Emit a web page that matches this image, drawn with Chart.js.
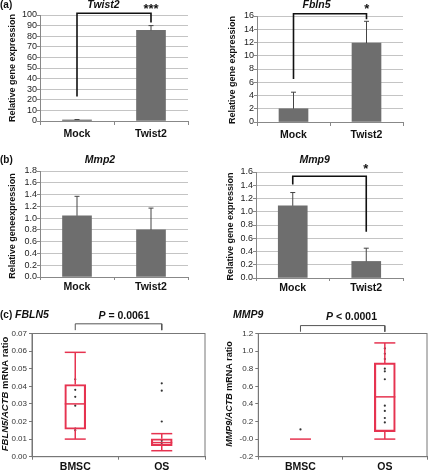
<!DOCTYPE html>
<html>
<head>
<meta charset="utf-8">
<script src="https://cdn.jsdelivr.net/npm/chart.js@4.4.1/dist/chart.umd.min.js"></script>
<style>
  body { margin: 0; background: #fff; }
  #wrap { position: relative; width: 431px; height: 471px; }
  canvas { position: absolute; }
</style>
</head>
<body>
<div id="wrap">
  <canvas id="a1" width="215" height="150" style="left:0;top:0"></canvas>
  <canvas id="a2" width="216" height="150" style="left:215px;top:0"></canvas>
  <canvas id="b1" width="215" height="150" style="left:0;top:150px"></canvas>
  <canvas id="b2" width="216" height="150" style="left:215px;top:150px"></canvas>
  <canvas id="c1" width="215" height="171" style="left:0;top:300px"></canvas>
  <canvas id="c2" width="216" height="171" style="left:215px;top:300px"></canvas>
</div>
<script>
// Werte
const groups = ['Mock', 'Twist2'];
const twist2Mean = [1.0, 85.5];
const twist2Sd = [0.4, 4.5];
const twist2Bracket = [23, 101.6, 93];   // linkes Bein, Oberkante, rechtes Bein
const fbln5Mean = [2.0, 11.9];
const fbln5Sd = [2.5, 3.3];
const fbln5Bracket = [6.5, 16.35, 15.5];
const mmp2Mean = [1.04, 0.80];
const mmp2Sd = [0.33, 0.37];
const mmp9Mean = [1.09, 0.25];
const mmp9Sd = [0.20, 0.20];
const mmp9Bracket = [1.41, 1.535, 0.70];

const tissues = ['BMSC', 'OS'];
// [min, q1, median, q3, max]
const fbln5Bmsc = [0.010, 0.0156, 0.030, 0.041, 0.0593];
const fbln5Os = [0.0034, 0.0062, 0.0080, 0.0102, 0.0131];
const fbln5BmscDots = [0.044, 0.038, 0.034, 0.029, 0.016, 0.015];
const fbln5OsDots = [0.0417, 0.0375, 0.020, 0.009, 0.0072];
const fbln5PBracket = [0.0719, 0.0755, 0.0719];
const mmp9Bmsc = [0, 0, 0, 0, 0];
const mmp9Os = [0.0, 0.085, 0.48, 0.866, 1.093];
const mmp9BmscDots = [0.11];
const mmp9OsDots = [1.03, 0.97, 0.91, 0.80, 0.77, 0.68, 0.38, 0.32, 0.24, 0.19];
const mmp9PBracket = [1.22, 1.29, 1.22];

const FONT = "'Liberation Sans', Arial, sans-serif";
Chart.defaults.font.family = FONT;
Chart.defaults.color = '#1a1a1a';
const RED = '#e63350';
const B = s => `bold ${s}px ${FONT}`;
const BI = s => `italic bold ${s}px ${FONT}`;

// Text mit gemischten Schriften (kursiv / fett) zeichnen
function drawRich(ctx, t) {
  ctx.save();
  ctx.translate(t.x, t.y);
  if (t.rotate) ctx.rotate(-Math.PI / 2);
  ctx.textBaseline = 'middle';
  ctx.textAlign = 'left';
  ctx.fillStyle = '#111';
  let total = 0;
  t.segs.forEach(s => { ctx.font = s[1]; total += ctx.measureText(s[0]).width; });
  let cx = t.align === 'left' ? 0 : -total / 2;
  t.segs.forEach(s => {
    ctx.font = s[1];
    ctx.fillText(s[0], cx, 0);
    cx += ctx.measureText(s[0]).width;
  });
  ctx.restore();
}

function seg(ctx, x1, y1, x2, y2) {
  ctx.beginPath();
  ctx.moveTo(x1, y1);
  ctx.lineTo(x2, y2);
  ctx.stroke();
}

// Fehlerbalken, Boxplot-Whisker, Rahmen und Texte
const extras = {
  id: 'extras',
  beforeDatasetsDraw(chart, args, opts) {
    if (!opts.frame) return;
    const a = chart.chartArea, ctx = chart.ctx;
    ctx.save();
    ctx.strokeStyle = '#777';
    ctx.lineWidth = 1;
    ctx.strokeRect(a.left, a.top, a.right - a.left, a.bottom - a.top);
    ctx.restore();
  },
  afterDatasetsDraw(chart, args, opts) {
    const ctx = chart.ctx, y = chart.scales.y;
    const meta = chart.getDatasetMeta(0);
    ctx.save();
    if (opts.errors) {
      ctx.strokeStyle = '#444';
      ctx.lineWidth = 1;
      opts.errors.forEach((sd, i) => {
        const bar = meta.data[i];
        const top = y.getPixelForValue(chart.data.datasets[0].data[i] + sd);
        seg(ctx, bar.x, bar.y, bar.x, top);
        seg(ctx, bar.x - 2.5, top, bar.x + 2.5, top);
      });
    }
    if (opts.boxes) {
      ctx.strokeStyle = RED;
      ctx.lineWidth = 1.5;
      opts.boxes.forEach((b, i) => {
        const el = meta.data[i];
        const hw = el.width / 2, cx = el.x;
        const py = v => y.getPixelForValue(v);
        seg(ctx, cx - hw, py(b[2]), cx + hw, py(b[2]));
        if (b[0] < b[1]) {
          seg(ctx, cx, py(b[1]), cx, py(b[0]));
          seg(ctx, cx - hw, py(b[0]), cx + hw, py(b[0]));
        }
        if (b[4] > b[3]) {
          seg(ctx, cx, py(b[3]), cx, py(b[4]));
          seg(ctx, cx - hw, py(b[4]), cx + hw, py(b[4]));
        }
      });
    }
    ctx.restore();
  },
  afterDraw(chart, args, opts) {
    (opts.texts || []).forEach(t => drawRich(chart.ctx, t));
  }
};

function bracketSet(labels, v, color, width) {
  return {
    type: 'line',
    data: [{ x: labels[0], y: v[0] }, { x: labels[0], y: v[1] }, { x: labels[1], y: v[1] }, { x: labels[1], y: v[2] }],
    borderColor: color, borderWidth: width, pointRadius: 0, tension: 0, fill: false, clip: false
  };
}

function dotSet(pairs) {
  return {
    type: 'line', data: pairs, showLine: false, clip: false,
    pointRadius: 1.1, pointBackgroundColor: '#333', pointBorderWidth: 0
  };
}

// Zeichenfläche exakt platzieren: area = [links, oben, rechts, unten]
function placeArea(options, cv, area) {
  options.layout = { padding: { top: area[1], right: cv.width - area[2], left: 0, bottom: 0 } };
  options.scales.y.afterFit = s => { s.width = area[0]; };
  options.scales.x.afterFit = s => { s.height = cv.height - area[3]; };
}

function barPanel(id, area, yMax, step, fmt, mean, sd, bracket, xTick, xPad, texts) {
  const cv = document.getElementById(id);
  const datasets = [{ data: mean, backgroundColor: '#6e6e6e', barThickness: 29 }];
  if (bracket) datasets.push(bracketSet(groups, bracket, '#111', 1.6));
  const options = {
    responsive: false, animation: false, devicePixelRatio: 1,
    plugins: { legend: { display: false }, tooltip: { enabled: false }, extras: { errors: sd, texts: texts } },
    scales: {
      x: {
        grid: { drawOnChartArea: false, tickLength: xTick, color: '#888' },
        border: { color: '#888' },
        ticks: { font: { size: 10.5, weight: 'bold' }, padding: xPad, color: '#111' }
      },
      y: {
        min: 0, max: yMax,
        ticks: { stepSize: step, autoSkip: false, callback: fmt, font: { size: 9 }, padding: 0, color: '#222' },
        grid: { color: '#c4c4c4', tickLength: 3, tickColor: '#888' },
        border: { color: '#888' }
      }
    }
  };
  placeArea(options, cv, area);
  new Chart(cv, { type: 'bar', data: { labels: groups, datasets }, options, plugins: [extras] });
}

function boxPanel(id, area, yMin, yMax, step, fmt, stats, dots, bracket, texts) {
  const cv = document.getElementById(id);
  const dotPairs = [];
  dots.forEach((list, i) => list.forEach(v => dotPairs.push({ x: tissues[i], y: v })));
  const datasets = [
    { data: stats.map(s => [s[1], s[3]]), backgroundColor: 'rgba(255,255,255,0)', borderColor: RED,
      borderWidth: 1.5, borderSkipped: false, barThickness: 21 },
    dotSet(dotPairs),
    bracketSet(tissues, bracket, '#555', 1)
  ];
  const options = {
    responsive: false, animation: false, devicePixelRatio: 1,
    plugins: { legend: { display: false }, tooltip: { enabled: false }, extras: { boxes: stats, frame: true, texts: texts } },
    scales: {
      x: {
        grid: { drawOnChartArea: false, tickLength: 3, color: '#777' },
        border: { color: '#777' },
        ticks: { font: { size: 10.5, weight: 'bold' }, padding: 1, color: '#111' }
      },
      y: {
        min: yMin, max: yMax,
        ticks: { stepSize: step, autoSkip: false, callback: fmt, font: { size: 8 }, padding: 2, color: '#333' },
        grid: { drawOnChartArea: false, tickLength: 3, color: '#777' },
        border: { color: '#777' }
      }
    }
  };
  placeArea(options, cv, area);
  new Chart(cv, { type: 'bar', data: { labels: tissues, datasets }, options, plugins: [extras] });
}

const int = v => v;
const one = v => v.toFixed(1);
const two = v => v.toFixed(2);

barPanel('a1', [40, 15, 188, 121], 100, 10, int, twist2Mean, twist2Sd, twist2Bracket, 4, 3, [
  { x: 0, y: 5.5, align: 'left', segs: [['(a)', B(10)]] },
  { x: 103.5, y: 5.5, segs: [['Twist2', BI(10.5)]] },
  { x: 151, y: 9, segs: [['***', B(13)]] },
  { x: 13, y: 68, rotate: true, segs: [['Relative gene expression', B(9)]] }
]);
barPanel('a2', [42, 16, 188, 122], 16, 2, int, fbln5Mean, fbln5Sd, fbln5Bracket, 4, 3, [
  { x: 101.5, y: 5.5, segs: [['Fbln5', BI(10.5)]] },
  { x: 151.7, y: 9.5, segs: [['*', B(13)]] },
  { x: 17.5, y: 70, rotate: true, segs: [['Relative gene expression', B(9)]] }
]);
barPanel('b1', [40, 21, 188, 127], 1.8, 0.2, one, mmp2Mean, mmp2Sd, null, 3, 0.5, [
  { x: 0, y: 10, align: 'left', segs: [['(b)', B(10)]] },
  { x: 100, y: 10, segs: [['Mmp2', BI(10.5)]] },
  { x: 13, y: 76, rotate: true, segs: [['Relative geneexpression', B(9)]] }
]);
barPanel('b2', [41, 22, 188, 128], 1.6, 0.2, one, mmp9Mean, mmp9Sd, mmp9Bracket, 3, 0.5, [
  { x: 99.7, y: 10, segs: [['Mmp9', BI(10.5)]] },
  { x: 150.7, y: 19, segs: [['*', B(13)]] },
  { x: 15.5, y: 76.5, rotate: true, segs: [['Relative gene expression', B(9)]] }
]);
boxPanel('c1', [32, 33.5, 205, 156.7], 0, 0.07, 0.01, two, [fbln5Bmsc, fbln5Os],
  [fbln5BmscDots, fbln5OsDots], fbln5PBracket, [
  { x: 0, y: 15, align: 'left', segs: [['(c) ', B(10)], ['FBLN5', BI(10.5)]] },
  { x: 124, y: 16, segs: [['P', BI(10.5)], [' = 0.0061', B(10.5)]] },
  { x: 5.5, y: 94, rotate: true, segs: [['FBLN5/ACTB', BI(9.5)], [' mRNA ratio', B(9.5)]] }
]);
boxPanel('c2', [43.3, 33.5, 213, 156.7], -0.2, 1.2, 0.2, one, [mmp9Bmsc, mmp9Os],
  [mmp9BmscDots, mmp9OsDots], mmp9PBracket, [
  { x: 18, y: 15, align: 'left', segs: [['MMP9', BI(10.5)]] },
  { x: 136.5, y: 17, segs: [['P', BI(10.5)], [' < 0.0001', B(10.5)]] },
  { x: 15, y: 94, rotate: true, segs: [['MMP9/ACTB', BI(9)], [' mRNA ratio', B(9)]] }
]);
</script>
</body>
</html>
